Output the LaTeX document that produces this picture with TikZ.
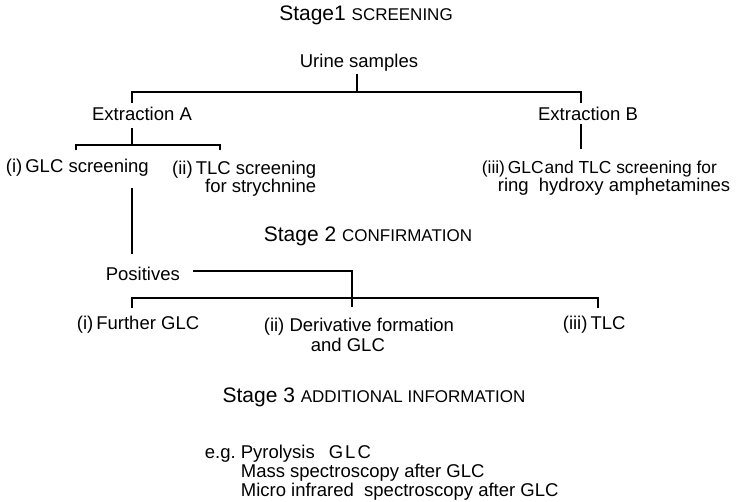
\documentclass[tikz,border=0pt]{standalone}
\usepackage{fontspec}
\setmainfont{Liberation Sans}
\begin{document}
\begin{tikzpicture}[x=1pt,y=-1pt,line width=1.7pt,
  lbl/.style={inner sep=0pt,font=\fontsize{18.5}{17}\selectfont},
  lblw/.style={inner sep=0pt,font=\fontsize{18.5}{20}\selectfont},
  ttl/.style={inner sep=0pt,font=\fontsize{21}{24}\selectfont}]
\useasboundingbox (0,0) rectangle (739,502);
\newcommand{\smc}[1]{{\fontsize{17}{20}\selectfont #1}}
% stage titles
\node[ttl] (s1) at (366,15) {Stage1 \smc{SCREENING}};
\node[ttl] (s2) at (368,236) {Stage 2 \smc{CONFIRMATION}};
\node[ttl] (s3) at (374,397) {Stage 3 \smc{ADDITIONAL INFORMATION}};
% stage 1
\node[lbl] (urine) at (359,63) {Urine samples};
\node[lbl] (exA) at (142,114) {Extraction A};
\node[lbl] (exB) at (588,114) {Extraction B};
\node[lbl,anchor=west] (glc) at (5,168) {(i)\,GLC screening};
\node[lbl,anchor=north east,align=right] (tlc) at (317,160) {(ii)\,TLC screening\\for strychnine};
\node[lbl,anchor=north west,align=left] (iii) at (481,160) {{\fontsize{17.4}{17}\selectfont(iii)\,GLC\hspace{1pt}and TLC screening for}\\\hspace*{16pt}ring\ \ hydroxy amphetamines};
% stage 2
\node[lbl,anchor=west] (pos) at (105,274) {Positives};
\node[lbl,anchor=west] (fglc) at (76,325) {(i)\,Further GLC};
\node[lblw,anchor=north west,align=left] (deriv) at (263,317) {(ii) Derivative formation\\\hspace*{47pt}and GLC};
\node[lbl,anchor=west] (tlc2) at (562,325) {(iii)\,TLC};
% stage 3
\node[lblw,anchor=north west,align=left,font=\fontsize{18.5}{19}\selectfont] (eg) at (204,444) {\makebox[36pt][l]{e.g.}Pyrolysis\hspace{14pt}G\hspace{2pt}L\hspace{2pt}C\\\hspace*{36pt}Mass spectroscopy after GLC\\\hspace*{36pt}Micro infrared\ \ spectroscopy after GLC};
% junction and end points
\coordinate (u0) at (357,74);
\coordinate (j1) at (357,92);
\coordinate (ja) at (132,92);
\coordinate (jb) at (581,92);
\coordinate (ja2) at (132,103);
\coordinate (jb2) at (581,103);
\coordinate (a0) at (132,128);
\coordinate (ka) at (132,145);
\coordinate (kl) at (76,145);
\coordinate (kr) at (220,145);
\coordinate (kl2) at (76,150);
\coordinate (kr2) at (220,150);
\coordinate (b0) at (581,124);
\coordinate (b1) at (581,149);
\coordinate (g0) at (132,188);
\coordinate (g1) at (132,254);
\coordinate (pa) at (193,271);
\coordinate (pj) at (352,271);
\coordinate (pq) at (352,307);
\coordinate (ql) at (132,298);
\coordinate (qr) at (598,298);
\coordinate (ql2) at (132,308);
\coordinate (qr2) at (598,308);
% connectors
\draw (u0) -- (j1);
\draw (ja2) -- (ja) -- (jb) -- (jb2);
\draw (a0) -- (ka);
\draw (kl2) -- (kl) -- (kr) -- (kr2);
\draw (b0) -- (b1);
\draw (g0) -- (g1);
\draw (pa) -- (pj) -- (pq);
\draw (ql2) -- (ql) -- (qr) -- (qr2);
\end{tikzpicture}
\end{document}
